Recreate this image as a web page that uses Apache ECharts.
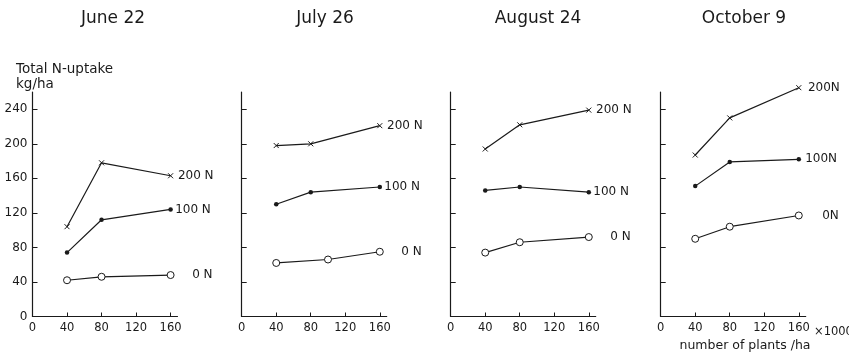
<!DOCTYPE html>
<html>
<head>
<meta charset="utf-8">
<script src="https://cdn.jsdelivr.net/npm/echarts@6/dist/echarts.min.js"></script>
<style>
  html, body { margin: 0; padding: 0; background: #fff; }
  #grafico { width: 849px; height: 352px; }
</style>
</head>
<body>
<div id="grafico"></div>
<script>
// sampling dates (one panel each)
var datas = ['June 22', 'July 26', 'August 24', 'October 9'];

// number of plants/ha (x1000)
var plantas = [40, 80, 160];
var plantas0NJuly = [40, 100, 160];
var xTicks = [0, 40, 80, 120, 160];
var yTicks = [0, 40, 80, 120, 160, 200, 240];

// total N-uptake kg/ha, per panel
var uptake0N = [[42, 46, 48], [62, 66, 75], [74, 86, 92], [90, 104, 117]];
var uptake100N = [[74, 112, 124], [130, 144, 150], [146, 150, 144], [151, 179, 182]];
var uptake200N = [[104, 178, 163], [198, 200, 221], [194, 222, 239], [187, 230, 265]];

var nomes0N = ['0 N', '0 N', '0 N', '0N'];
var nomes100N = ['100 N', '100 N', '100 N', '100N'];
var nomes200N = ['200 N', '200 N', '200 N', '200N'];

var preto = '#1a1a1a';
var fonte = 'DejaVu Sans';
var lefts = [32.5, 241.7, 450.7, 660.7];
var centros = [108, 320, 533, 739];
var larguraLabel = [35, 35, 35, 33];

var grids = [], xAxes = [], yAxes = [], titulos = [], series_grafico = [];

function pares(xs, ys) {
    return xs.map(function (x, j) { return [x, ys[j]]; });
}

function serie(i, xs, ys, nome, simbolo) {
    var s = {
        type: 'line',
        xAxisIndex: i,
        yAxisIndex: i,
        clip: false,
        data: pares(xs, ys),
        lineStyle: { color: preto, width: 1.2 },
        showAllSymbol: true,
        label: {
            show: true,
            position: 'right',
            distance: 3,
            formatter: function (p) { return p.dataIndex === 2 ? '{t|' + nome + '}' : ''; },
            rich: {
                t: {
                    width: larguraLabel[i], align: 'right',
                    fontFamily: fonte, fontSize: 12, color: preto
                }
            }
        }
    };
    if (simbolo == 'x') {
        s.symbol = 'path://M0,0L10,10M10,0L0,10';
        s.symbolSize = 5;
        s.itemStyle = { color: 'none', borderColor: preto, borderWidth: 1 };
    } else if (simbolo == 'dot') {
        s.symbol = 'circle';
        s.symbolSize = 4.5;
        s.itemStyle = { color: preto, borderWidth: 0 };
    } else {
        s.symbol = 'circle';
        s.symbolSize = 7;
        s.itemStyle = { color: '#fff', borderColor: preto, borderWidth: 1 };
    }
    return s;
}

datas.forEach(function (d, i) {
    grids.push({ left: lefts[i], top: 92, width: 145, height: 224.5 });

    titulos.push({
        text: d, left: centros[i], top: 5, textAlign: 'center',
        textStyle: { fontFamily: fonte, fontSize: 17, fontWeight: 'normal', color: preto }
    });

    xAxes.push({
        type: 'value', gridIndex: i, min: 0, max: 168, interval: 40,
        splitLine: { show: false },
        axisLine: { lineStyle: { color: preto, width: 1.2 } },
        axisTick: { inside: true, length: 4, customValues: [40, 80, 120, 160], lineStyle: { color: preto } },
        axisLabel: {
            customValues: xTicks, margin: 6, color: preto,
            fontFamily: fonte, fontSize: 11.5
        }
    });

    yAxes.push({
        type: 'value', gridIndex: i, min: 0, max: 260, interval: 40,
        splitLine: { show: false },
        axisLine: { show: true, lineStyle: { color: preto, width: 1.2 } },
        axisTick: { show: true, inside: true, length: 5, customValues: yTicks, lineStyle: { color: preto } },
        axisLabel: {
            show: i === 0, customValues: yTicks, margin: 5, color: preto,
            fontFamily: fonte, fontSize: 12
        }
    });

    series_grafico.push(serie(i, i === 1 ? plantas0NJuly : plantas, uptake0N[i], nomes0N[i], 'circle'));
    series_grafico.push(serie(i, plantas, uptake100N[i], nomes100N[i], 'dot'));
    series_grafico.push(serie(i, plantas, uptake200N[i], nomes200N[i], 'x'));
});

titulos.push({
    text: 'Total N-uptake\nkg/ha', left: 11, top: 57,
    textStyle: { fontFamily: fonte, fontSize: 13.5, fontWeight: 'normal', color: preto, lineHeight: 15 }
});
titulos.push({
    text: '×1000', left: 809, top: 321,
    textStyle: { fontFamily: fonte, fontSize: 11.5, fontWeight: 'normal', color: preto }
});
titulos.push({
    text: 'number of plants /ha', left: 740, top: 334, textAlign: 'center',
    textStyle: { fontFamily: fonte, fontSize: 12.5, fontWeight: 'normal', color: preto }
});

var myChart = echarts.init(document.getElementById('grafico'), null, { renderer: 'canvas' });

var option = {
    animation: false,
    backgroundColor: '#fff',
    title: titulos,
    grid: grids,
    xAxis: xAxes,
    yAxis: yAxes,
    series: series_grafico
};

myChart.setOption(option);
</script>
</body>
</html>
